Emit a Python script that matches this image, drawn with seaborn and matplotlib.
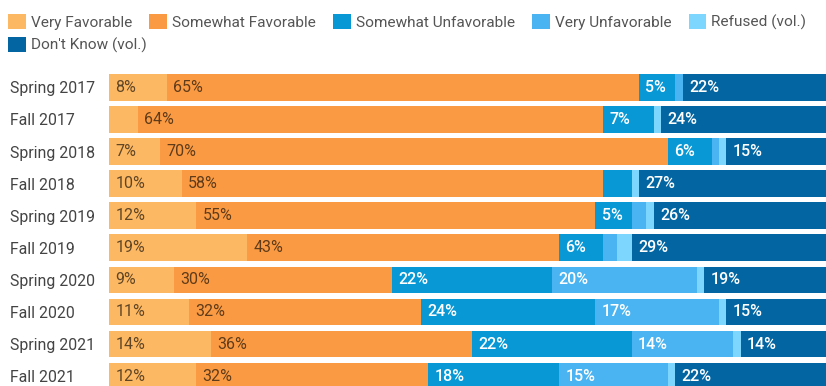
import numpy as np
import pandas as pd
import seaborn as sns
import matplotlib.pyplot as plt
from matplotlib.patches import Patch

# survey waves, top to bottom
waves = ['Spring 2017', 'Fall 2017', 'Spring 2018', 'Fall 2018', 'Spring 2019',
         'Fall 2019', 'Spring 2020', 'Fall 2020', 'Spring 2021', 'Fall 2021']

very_fav = [8, 4, 7, 10, 12, 19, 9, 11, 14, 12]
somewhat_fav = [65, 64, 70, 58, 55, 43, 30, 32, 36, 32]
somewhat_unfav = [5, 7, 6, 4, 5, 6, 22, 24, 22, 18]
very_unfav = [1, 0, 1, 0, 2, 2, 20, 17, 14, 15]
refused = [0, 1, 1, 1, 1, 2, 1, 1, 1, 1]
dont_know = [22, 24, 15, 27, 26, 29, 19, 15, 14, 22]

series_names = ['Very Favorable', 'Somewhat Favorable', 'Somewhat Unfavorable',
                'Very Unfavorable', 'Refused (vol.)', "Don't Know (vol.)"]
series = [very_fav, somewhat_fav, somewhat_unfav, very_unfav, refused, dont_know]
colors = ['#FDB863', '#FA9B43', '#0898D5', '#4AB3F2', '#7DD6FD', '#0366A3']
label_colors = [(0, 0, 0, 0.62), (0, 0, 0, 0.62), 'white', 'white', 'white', 'white']

sns.set_style('white')
plt.rcParams['font.family'] = ['Roboto', 'DejaVu Sans']

df = pd.DataFrame(dict(zip(series_names, series)), index=waves)
cum = df.cumsum(axis=1)
starts = cum - df

W, H = 826, 386
fig = plt.figure(figsize=(W / 100, H / 100), dpi=100)
pitch = 32.08
top = 87.4 - pitch / 2
ax = fig.add_axes([109 / W, (H - (top + 10 * pitch)) / H, 726 / W, 10 * pitch / H])

# stacked bars: draw cumulative totals from the outermost segment inwards
for name, col in reversed(list(zip(series_names, colors))):
    sns.barplot(x=cum[name].values, y=waves, color=col, saturation=1,
                width=0.83, orient='h', ax=ax, linewidth=0)

for name, lc in zip(series_names, label_colors):
    for i, w in enumerate(waves):
        v = df.loc[w, name]
        if v >= 5:
            ax.annotate(f'{v}%', (starts.loc[w, name], i), xytext=(4.6, 0),
                        textcoords='offset points', va='center', ha='left',
                        fontsize=11.5, color=lc,
                        fontweight='medium' if lc == 'white' else 'normal')

ax.set_xlim(0, 100)
ax.set_ylim(9.5, -0.5)
ax.set_xlabel('')
ax.set_ylabel('')
ax.set_xticks([])
sns.despine(ax=ax, left=True, bottom=True)
ax.tick_params(axis='y', length=0, pad=71.3, labelsize=11.4, labelcolor='#444444')
for lab in ax.get_yticklabels():
    lab.set_horizontalalignment('left')

# legend wraps like flowing text: five items on the first row, one on the second
leg_kw = dict(loc='upper left', frameon=False, fontsize=11.1, labelcolor='#555555',
              borderpad=0, borderaxespad=0, handlelength=1.15, handleheight=1.15,
              handletextpad=0.32, columnspacing=1.12)
handles = [Patch(facecolor=c, edgecolor='none') for c in colors]
fig.legend(handles[:5], series_names[:5], ncol=5,
           bbox_to_anchor=(8 / W, 1 - 14 / H), **leg_kw)
fig.legend(handles[5:], series_names[5:], ncol=1,
           bbox_to_anchor=(8 / W, 1 - 37 / H), **leg_kw)

fig.savefig('out.png', dpi=100)
